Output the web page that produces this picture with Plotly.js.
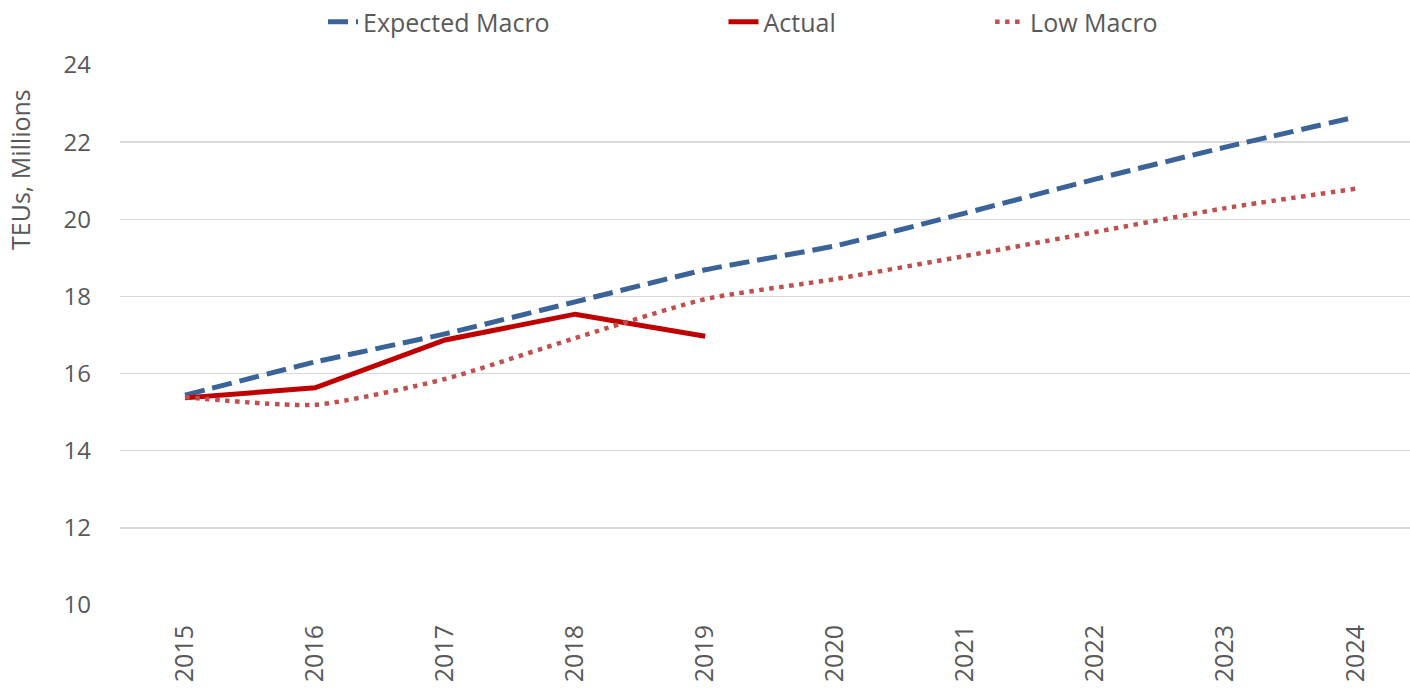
<!DOCTYPE html>
<html>
<head>
<meta charset="utf-8">
<script src="https://cdn.plot.ly/plotly-3.0.1.min.js"></script>
<style>html,body{margin:0;padding:0;background:#fff;}#chart{width:1410px;height:692px;}</style>
</head>
<body>
<div id="chart"></div>
<script>
const years = ["2015","2016","2017","2018","2019","2020","2021","2022","2023","2024"];
const expectedMacro = [15.44, 16.30, 17.03, 17.86, 18.69, 19.31, 20.16, 21.04, 21.87, 22.65];
const actualYears = ["2015","2016","2017","2018","2019"];
const actual = [15.37, 15.63, 16.87, 17.54, 16.97];
const lowMacro = [15.39, 15.19, 15.86, 16.92, 17.93, 18.45, 19.05, 19.67, 20.29, 20.79];
const yTicks = [10, 12, 14, 16, 18, 20, 22, 24];
const seriesNames = ["Expected Macro", "Actual", "Low Macro"];

const pad = n => "\u00A0".repeat(n);
const font = "Open Sans, Noto Sans, sans-serif";
const traces = [
  {x: years, y: expectedMacro, name: seriesNames[0] + pad(26), type: "scatter", mode: "lines",
   line: {color: "#3A6397", width: 5, dash: "20px,8px", shape: "spline", smoothing: 0.4}},
  {x: actualYears, y: actual, name: seriesNames[1] + pad(23), type: "scatter", mode: "lines",
   line: {color: "#C00000", width: 5}},
  {x: years, y: lowMacro, name: seriesNames[2], type: "scatter", mode: "lines",
   line: {color: "#C0504D", width: 4.5, dash: "4.5px,5.5px", shape: "spline", smoothing: 0.6}}
];
const layout = {
  width: 1410, height: 692,
  margin: {l: 120, r: 0, t: 65, b: 87},
  paper_bgcolor: "#fff", plot_bgcolor: "#fff",
  font: {family: font, size: 22, color: "#595959"},
  showlegend: true,
  legend: {orientation: "h", xref: "container", yref: "container", x: 323/1410, xanchor: "left",
           y: 1 - 22/692, yanchor: "middle",
           font: {size: 25, color: "#595959"}, traceorder: "normal", bgcolor: "rgba(0,0,0,0)"},
  xaxis: {type: "category", range: [-0.5, 9.42], tickangle: -90, showgrid: false,
          zeroline: false, showline: false, ticks: "", ticklabelstandoff: 14,
          tickfont: {size: 25, color: "#595959"}},
  yaxis: {range: [10, 24], tickvals: yTicks, ticktext: yTicks.map(String), showgrid: true,
          gridcolor: "#D9D9D9", gridwidth: 1.5, zeroline: false, showline: false, ticks: "",
          ticklabelstandoff: 28,
          tickfont: {size: 24, color: "#595959"}},
  annotations: [{text: "TEUs, Millions", xref: "paper", yref: "paper", x: -100/1290, y: 1 - (170-65)/540,
                 xanchor: "center", yanchor: "middle", textangle: -90, showarrow: false,
                 font: {size: 25, color: "#595959"}}]
};
Plotly.newPlot("chart", traces, layout, {displayModeBar: false, staticPlot: true});
</script>
</body>
</html>
